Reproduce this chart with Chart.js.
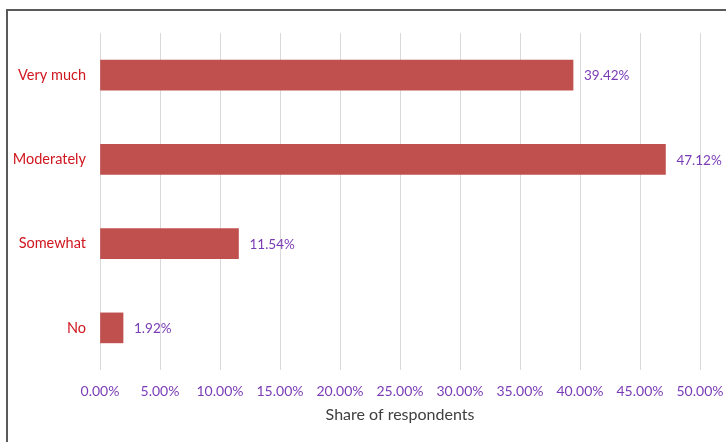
<!DOCTYPE html>
<html>
<head>
<meta charset="utf-8">
<script src="https://cdn.jsdelivr.net/npm/chart.js@4/dist/chart.umd.min.js"></script>
<style>
    html, body { margin: 0; padding: 0; background: #fff; overflow: hidden; }
    #wrap { position: relative; width: 726px; height: 442px; }
    #frame { position: absolute; left: 6px; top: 9px; width: 900px; height: 600px; border: 2px solid #5a5a5a; }
    canvas { position: absolute; left: 0; top: 0; }
</style>
</head>
<body>
<div id="wrap">
    <div id="frame"></div>
    <canvas id="chart" width="726" height="442"></canvas>
</div>
<script>
const categories = ['Very much', 'Moderately', 'Somewhat', 'No'];
const shares = [39.42, 47.12, 11.54, 1.92];

const purple = '#7a3cb6';

// value labels at the end of each bar
const barLabels = {
    id: 'barLabels',
    afterDatasetsDraw(chart) {
        const ctx = chart.ctx;
        const meta = chart.getDatasetMeta(0);
        ctx.save();
        ctx.font = '13.5px Lato';
        ctx.fillStyle = purple;
        ctx.textAlign = 'left';
        ctx.textBaseline = 'middle';
        meta.data.forEach(function(bar, i) {
            ctx.fillText(shares[i].toFixed(2) + '%', bar.x + 11, bar.y + 1);
        });
        ctx.restore();
    }
};

new Chart(document.getElementById('chart'), {
    type: 'bar',
    data: {
        labels: categories,
        datasets: [{
            data: shares,
            backgroundColor: '#c0504d',
            barThickness: 30
        }]
    },
    options: {
        indexAxis: 'y',
        responsive: false,
        animation: false,
        layout: { padding: { top: 33, right: 26, left: 0, bottom: 0 } },
        plugins: {
            legend: { display: false },
            tooltip: { enabled: false }
        },
        scales: {
            x: {
                min: 0,
                max: 50,
                ticks: {
                    stepSize: 5,
                    padding: 13,
                    color: purple,
                    font: { family: 'Lato', size: 14 },
                    maxRotation: 0,
                    callback: value => value.toFixed(2) + '%'
                },
                grid: { color: '#d9d9d9', drawTicks: false },
                border: { display: false },
                title: {
                    display: true,
                    text: 'Share of respondents',
                    color: '#404040',
                    font: { family: 'Lato', size: 16 },
                    padding: { top: 0, bottom: 18 }
                },
                afterFit(scale) {
                    scale.height = 72;
                    scale.paddingLeft = 0;
                    scale.paddingRight = 0;
                }
            },
            y: {
                ticks: {
                    padding: 14,
                    color: '#d0161e',
                    font: { family: 'Lato', size: 14.5 }
                },
                grid: { display: false, drawTicks: false },
                border: { display: false },
                afterFit(scale) {
                    scale.width = 100;
                    scale.paddingTop = 0;
                    scale.paddingBottom = 0;
                }
            }
        }
    },
    plugins: [barLabels]
});
</script>
</body>
</html>
